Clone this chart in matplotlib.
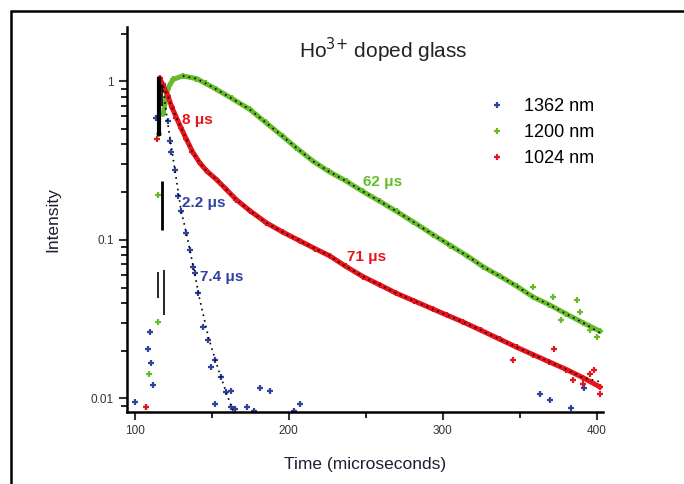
import matplotlib
matplotlib.use('Agg')
import matplotlib.pyplot as plt
import matplotlib.patches as patches
from matplotlib.ticker import LogLocator, NullFormatter, FixedLocator
import numpy as np

plt.rcParams['font.family'] = ['Liberation Sans', 'DejaVu Sans']

# 1362 nm (blue) : time (us), intensity
t_1362 = [100.0, 108.6, 109.7, 110.8, 111.9, 114.1, 118.2, 121.6, 122.7, 123.8,
          126.0, 128.1, 130.3, 133.6, 135.7, 137.9, 139.0, 141.1, 144.4, 147.6,
          149.8, 151.9, 156.3, 159.5, 162.8]
i_1362 = [0.0095, 0.0206, 0.0263, 0.0167, 0.0121, 0.589, 0.957, 0.561, 0.419, 0.358,
          0.274, 0.188, 0.151, 0.110, 0.0865, 0.0678, 0.0615, 0.046, 0.0283, 0.0233,
          0.0158, 0.0174, 0.0137, 0.011, 0.0088]
# scattered low points of 1362 nm near the noise floor
t_1362_noise = [151.9, 162.8, 164.9, 172.9, 177.3, 181.2, 188.1, 203.2, 207.6,
                363.0, 369.9, 383.1, 391.6]
i_1362_noise = [0.0092, 0.0112, 0.0086, 0.0088, 0.0083, 0.0117, 0.0112, 0.0083, 0.0092,
                0.0106, 0.0097, 0.0087, 0.0117]

# 1200 nm (green): rising points, then the decay band
t_1200_rise = [107.6, 109.3, 115.1, 114.9, 115.6]
i_1200_rise = [0.0088, 0.0143, 0.0304, 0.193, 0.463]
t_1200 = [118.5, 121.4, 125.0, 131.2, 140.0, 146.0, 153.0, 163.0, 174.7, 185.0,
          196.1, 205.0, 215.8, 226.0, 237.5, 248.0, 259.1, 270.0, 280.7, 293.5,
          305.0, 316.0, 326.0, 337.0, 348.0, 358.4, 369.0, 380.3, 391.0, 402.0]
i_1200 = [0.62, 0.90, 1.03, 1.08, 1.04, 0.97, 0.89, 0.78, 0.665, 0.55,
          0.449, 0.38, 0.313, 0.27, 0.234, 0.202, 0.175, 0.151, 0.130, 0.108,
          0.092, 0.079, 0.0678, 0.059, 0.051, 0.0437, 0.039, 0.034, 0.030, 0.0265]
t_1200_noise = [358.4, 371.4, 386.8, 395.5, 399.8, 377.0, 389.0]
i_1200_noise = [0.0506, 0.0437, 0.0417, 0.027, 0.0244, 0.031, 0.035]

# 1024 nm (red)
t_1024_rise = [107.6, 114.5]
i_1024_rise = [0.0088, 0.43]
t_1024 = [116.2, 118.5, 121.6, 124.0, 127.1, 130.0, 133.6, 137.5, 142.2, 147.0,
          153.1, 159.0, 166.0, 175.0, 185.5, 196.0, 207.1, 217.0, 226.6, 237.0,
          248.2, 259.0, 269.9, 281.0, 293.5, 303.0, 313.2, 325.0, 337.0, 348.0,
          358.4, 369.0, 380.3, 391.0, 402.0]
i_1024 = [1.05, 0.93, 0.807, 0.69, 0.589, 0.51, 0.430, 0.36, 0.306, 0.27,
          0.240, 0.21, 0.179, 0.152, 0.128, 0.112, 0.0986, 0.088, 0.0792, 0.068,
          0.0586, 0.052, 0.046, 0.0413, 0.0366, 0.0334, 0.0303, 0.0268, 0.0236, 0.021,
          0.0189, 0.017, 0.0152, 0.0135, 0.0118]
t_1024_noise = [345.6, 384.6, 391.0, 395.5, 402.0, 372.0, 398.0]
i_1024_noise = [0.0174, 0.013, 0.0124, 0.0143, 0.0107, 0.0205, 0.0152]

# fitted curves (black dotted)
fit_t_1362 = [118.0, 122.0, 126.0, 130.0, 134.0, 138.0, 142.0, 148.0, 154.0, 160.0, 164.0]
fit_i_1362 = [0.95, 0.50, 0.28, 0.155, 0.105, 0.068, 0.043, 0.024, 0.0155, 0.0105, 0.0082]
fit_t_1200 = t_1200[3:-1] + [404.0]
fit_i_1200 = i_1200[3:-1] + [0.0252]
fit_t_1024 = t_1024[1:-1] + [404.0]
fit_i_1024 = i_1024[1:-1] + [0.0126]

# black vertical bars near the excitation pulse
bar_t = [115.5, 118.0, 117.5, 115.1, 119.0]
bar_lo = [0.45, 0.70, 0.116, 0.043, 0.0335]
bar_hi = [1.07, 0.95, 0.234, 0.0627, 0.0646]
bar_w = [3.0, 1.2, 2.0, 1.2, 1.2]

labels = ['1362 nm', '1200 nm', '1024 nm']
colors = ['#2f42a0', '#66bb2a', '#e8141c']

# decay time annotations: text, t, I, colour index
ann_text = ['8 \u03bcs', '62 \u03bcs', '71 \u03bcs', '2.2 \u03bcs', '7.4 \u03bcs']
ann_t = [131.0, 248.0, 237.7, 131.0, 142.2]
ann_i = [0.574, 0.23, 0.078, 0.171, 0.0583]
ann_c = [2, 1, 2, 0, 0]

fig = plt.figure(figsize=(6.84, 4.84), dpi=100, facecolor='w')
ax = fig.add_axes([127/684, 1-412/484, (603-127)/684, (412-27)/484])

# outer frame
fig.patches.append(patches.Rectangle((11/684, -0.2), 1.2, 1-11/484+0.2, transform=fig.transFigure,
                                     fill=False, edgecolor='k', linewidth=1.8))

mk = dict(marker='+', ms=5, mew=1.6, linestyle='none')
# 1362 nm
ax.plot(t_1362, i_1362, color=colors[0], label=labels[0], **mk)
ax.plot(t_1362_noise, i_1362_noise, color=colors[0], **mk)
# 1200 nm
ax.plot(t_1200, i_1200, '-', color=colors[1], lw=3.6, solid_capstyle='round', solid_joinstyle='round')
ax.plot(t_1200, i_1200, color=colors[1], label=labels[1], **mk)
ax.plot(t_1200_rise, i_1200_rise, color=colors[1], **mk)
ax.plot(t_1200_noise, i_1200_noise, color=colors[1], **mk)
# 1024 nm
ax.plot(t_1024, i_1024, '-', color=colors[2], lw=3.6, solid_capstyle='round', solid_joinstyle='round')
ax.plot(t_1024, i_1024, color=colors[2], label=labels[2], **mk)
ax.plot(t_1024_rise, i_1024_rise, color=colors[2], **mk)
ax.plot(t_1024_noise, i_1024_noise, color=colors[2], **mk)

for ft, fi in [(fit_t_1362, fit_i_1362), (fit_t_1200, fit_i_1200), (fit_t_1024, fit_i_1024)]:
    ax.plot(ft, fi, color='k', lw=1.2, linestyle=(0, (1, 2.5)))

for t, lo, hi, w in zip(bar_t, bar_lo, bar_hi, bar_w):
    ax.vlines(t, lo, hi, color='k', lw=w)

for s, t, i, c in zip(ann_text, ann_t, ann_i, ann_c):
    ax.text(t, i, s, color=colors[c], fontsize=11, fontweight='bold', ha='left', va='center')

ax.set_yscale('log')
ax.set_xlim(95, 404)
ax.set_ylim(0.0082, 2.2)
ax.xaxis.set_major_locator(FixedLocator([100, 200, 300, 400]))
ax.xaxis.set_minor_locator(FixedLocator([150, 250, 350]))
ax.set_xticklabels(['100', '200', '300', '400'])
ax.yaxis.set_major_locator(FixedLocator([0.01, 0.1, 1]))
ax.set_yticklabels(['0.01', '0.1', '1'])
ax.yaxis.set_minor_locator(LogLocator(base=10, subs=np.arange(2, 10), numticks=12))
ax.yaxis.set_minor_formatter(NullFormatter())
ax.tick_params(which='major', direction='out', length=6, width=1.5, labelsize=8.5, colors='#333333')
ax.tick_params(which='minor', direction='out', length=4, width=1.2)
for side in ['top', 'right']:
    ax.spines[side].set_visible(False)
for side in ['left', 'bottom']:
    ax.spines[side].set_linewidth(1.8)

ax.set_xlabel('Time (microseconds)', fontsize=12.5, color='#1c2030', labelpad=14)
ax.set_ylabel('Intensity', fontsize=12.5, color='#1c2030', labelpad=22)
fig.text(383/684, 1-50/484, 'Ho$^{3{+}}$ doped glass', fontsize=15, ha='center', va='center', color='#222222')

ax.legend(loc='upper left', bbox_to_anchor=(488/684, 1-98/484), bbox_transform=fig.transFigure,
          frameon=False, fontsize=13, handlelength=1.0, handletextpad=1.0, labelspacing=0.5,
          borderpad=0, borderaxespad=0, markerscale=0.9)

fig.savefig('out.png', dpi=100, facecolor='w')
